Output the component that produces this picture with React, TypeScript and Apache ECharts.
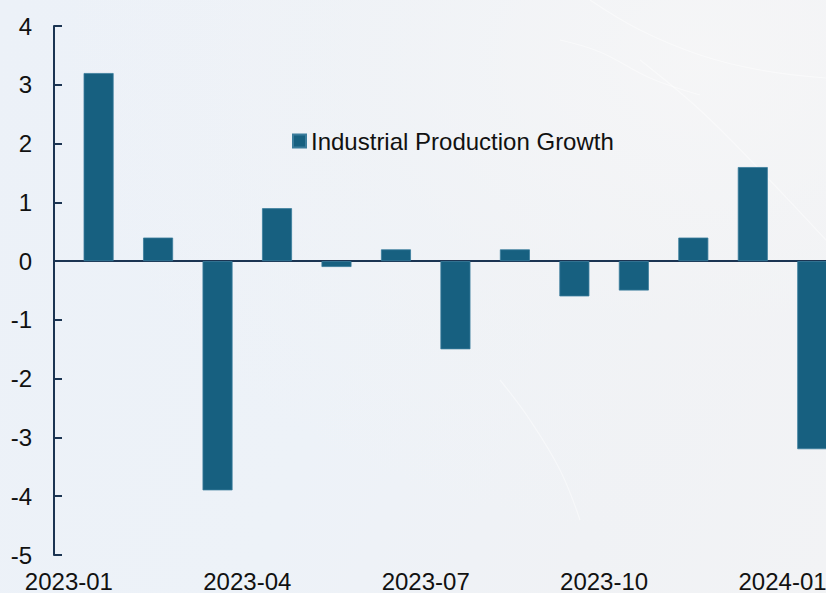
import React, { useEffect, useRef } from 'react';
import * as echarts from 'echarts';

// Monthly industrial production growth (%)
const months = [
  '2023-01', '2023-02', '2023-03', '2023-04', '2023-05', '2023-06', '2023-07',
  '2023-08', '2023-09', '2023-10', '2023-11', '2023-12', '2024-01',
];
const growth = [3.2, 0.4, -3.9, 0.9, -0.1, 0.2, -1.5, 0.2, -0.6, -0.5, 0.4, 1.6, -3.2];
const labeledMonths = ['2023-01', '2023-04', '2023-07', '2023-10', '2024-01'];
const seriesName = 'Industrial Production Growth';
const yMin = -5;
const yMax = 4;

const FONT = '"Liberation Sans", Arial, Helvetica, sans-serif';
const INK = '#111111';
const AXIS = '#1b3452';
const BAR = '#176080';

// faint marble veins in the backdrop
const veins: number[][][] = [
  [[590, 0], [640, 30], [700, 55], [760, 70], [826, 78]],
  [[560, 40], [600, 52], [650, 78], [700, 95]],
  [[640, 60], [700, 110], [760, 170], [826, 240]],
  [[500, 380], [530, 420], [560, 470], [580, 520]],
];

export default function App() {
  const ref = useRef<HTMLDivElement>(null);

  useEffect(() => {
    document.body.style.margin = '0';
    const chart = echarts.init(ref.current!, undefined, { renderer: 'svg' });

    // zero line drawn as the y-axis split line at value 0 only
    const splitColors: string[] = [];
    for (let v = yMin; v <= yMax; v++) splitColors.push(v === 0 ? AXIS : 'rgba(0,0,0,0)');

    chart.setOption({
      animation: false,
      textStyle: { fontFamily: FONT },
      graphic: veins.map((pts) => ({
        type: 'polyline',
        silent: true,
        z: -10,
        shape: { points: pts, smooth: 0.4 },
        style: { stroke: 'rgba(255,255,255,0.45)', lineWidth: 1.2, fill: 'none' },
      })),
      legend: {
        left: 292,
        top: 129,
        padding: 0,
        icon: 'rect',
        itemWidth: 13,
        itemHeight: 13,
        itemGap: 5,
        data: [seriesName],
        textStyle: { fontSize: 24, color: INK, fontFamily: FONT },
      },
      grid: { left: 54, top: 26, width: 788, height: 530, containLabel: false },
      xAxis: {
        type: 'value',
        min: -0.75,
        max: 12.5,
        axisLine: { show: false },
        axisTick: { show: false },
        splitLine: { show: false },
        axisLabel: {
          customValues: labeledMonths.map((m) => months.indexOf(m) - 0.5),
          formatter: (v: number) => months[Math.round(v + 0.5)] ?? '',
          fontSize: 24,
          color: INK,
          margin: 14,
          fontFamily: FONT,
        },
      },
      yAxis: {
        type: 'value',
        min: yMin,
        max: yMax,
        interval: 1,
        axisLine: { show: true, onZero: false, lineStyle: { color: AXIS, width: 2 } },
        axisTick: { show: true, inside: true, length: 8, lineStyle: { color: AXIS, width: 2 } },
        axisLabel: { fontSize: 24, color: INK, margin: 22, fontFamily: FONT },
        splitLine: { show: true, lineStyle: { color: splitColors, width: 2 } },
      },
      series: [
        {
          name: seriesName,
          type: 'bar',
          barWidth: 30,
          data: growth.map((v, i) => [i, v]),
          itemStyle: { color: BAR, borderColor: '#3a7c9c', borderWidth: 0.8 },
          z: 1,
        },
      ],
    });

    return () => chart.dispose();
  }, []);

  return (
    <div
      style={{
        position: 'fixed',
        left: 0,
        top: 0,
        width: 826,
        height: 593,
        overflow: 'hidden',
        background:
          'radial-gradient(ellipse at 85% 10%, rgba(246,246,247,0.9) 0%, rgba(242,243,245,0.5) 35%, rgba(240,242,246,0) 65%), linear-gradient(110deg, #ecf1f8 0%, #edf2f8 45%, #f0f2f5 75%, #f2f3f5 100%)',
      }}
    >
      <div ref={ref} style={{ width: 860, height: 593 }} />
    </div>
  );
}
